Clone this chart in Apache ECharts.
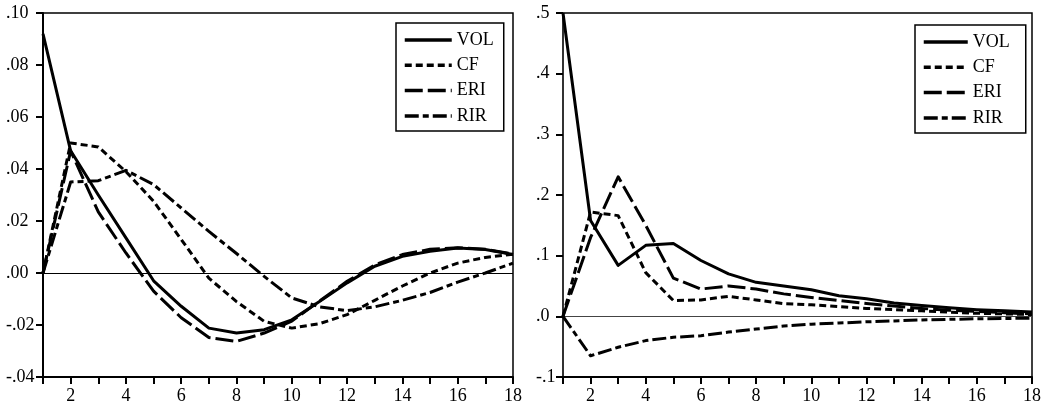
<!DOCTYPE html>
<html>
<head>
<meta charset="utf-8">
<script src="https://cdn.jsdelivr.net/npm/echarts@6/dist/echarts.min.js"></script>
<style>html,body{margin:0;padding:0;background:#fff}#c{width:1049px;height:410px}</style>
</head>
<body>
<div id="c"></div>
<script>
// horizon steps
const steps = [1,2,3,4,5,6,7,8,9,10,11,12,13,14,15,16,17,18];
const seriesNames = ['VOL','CF','ERI','RIR'];

// left panel responses
const leftVOL = [0.092,0.047,0.030,0.0135,-0.003,-0.0128,-0.0212,-0.0231,-0.0218,-0.018,-0.011,-0.0038,0.0026,0.0064,0.0084,0.0096,0.009,0.0071];
const leftCF  = [0.000,0.050,0.0485,0.039,0.0276,0.0129,-0.002,-0.011,-0.0186,-0.0212,-0.0195,-0.016,-0.0105,-0.005,0.000,0.0038,0.006,0.0072];
const leftERI = [0.000,0.047,0.0235,0.0077,-0.007,-0.0172,-0.0248,-0.0263,-0.0231,-0.0185,-0.0108,-0.0032,0.0031,0.0071,0.0091,0.0097,0.0091,0.0073];
const leftRIR = [0.000,0.035,0.0355,0.0395,0.034,0.025,0.016,0.0075,-0.0013,-0.0096,-0.013,-0.0145,-0.013,-0.0105,-0.0075,-0.0035,0.000,0.0038];

// right panel responses
const rightVOL = [0.500,0.158,0.084,0.117,0.120,0.092,0.070,0.056,0.050,0.0437,0.034,0.029,0.022,0.018,0.014,0.011,0.009,0.007];
const rightCF  = [0.000,0.172,0.166,0.072,0.026,0.027,0.033,0.027,0.021,0.019,0.016,0.013,0.011,0.009,0.007,0.005,0.004,0.003];
const rightERI = [0.000,0.130,0.230,0.150,0.063,0.045,0.050,0.045,0.037,0.031,0.026,0.021,0.017,0.013,0.010,0.008,0.006,0.004];
const rightRIR = [0.000,-0.065,-0.051,-0.040,-0.0345,-0.032,-0.026,-0.021,-0.016,-0.013,-0.011,-0.009,-0.0075,-0.006,-0.005,-0.004,-0.0035,-0.003];

// axis ranges / ticks
const leftY = {min:-0.04, max:0.10, interval:0.02};
const rightY = {min:-0.1, max:0.5, interval:0.1};
const xRange = {min:1, max:18, interval:1};

const FONT = 'Liberation Serif';
const dashes = {
  VOL: 'solid',
  CF: [7,4],
  ERI: [18,5],
  RIR: [14,4,6,4]
};

function fmtY(dec){
  return function(v){
    let s = Math.abs(v) < 1e-9 ? (0).toFixed(dec) : v.toFixed(dec);
    s = s.replace(/^(-?)0\./, '$1.');
    return s;
  };
}

function pairs(arr){ return steps.map((k,i)=>[k, arr[i]]); }

function makeSeries(gridIdx, data){
  return seriesNames.map((n, i) => {
    const s = {
      name: n,
      type: 'line',
      xAxisIndex: gridIdx,
      yAxisIndex: gridIdx,
      data: pairs(data[i]),
      symbol: 'none',
      showSymbol: false,
      smooth: false,
      lineStyle: {color:'#000', width: 3, type: dashes[n], cap:'butt', join:'round'},
      itemStyle: {color:'#000'},
      silent: true,
      z: 3
    };
    if (i === 0) {
      s.markLine = {
        silent: true,
        symbol: ['none','none'],
        label: {show:false},
        lineStyle: {color: gridIdx===0 ? '#000' : '#444', width: 1, type:'solid'},
        data: [{yAxis: 0}],
        z: 2
      };
    }
    return s;
  });
}

function xAxis(gridIdx){
  return {
    type:'value', gridIndex: gridIdx,
    min: xRange.min, max: xRange.max, interval: xRange.interval,
    axisLine:{show:true, onZero:false, lineStyle:{color:'#000', width:2}},
    axisTick:{show:true, inside:false, length:7, lineStyle:{color:'#000', width:2}},
    axisLabel:{show:true, margin:10, color:'#000', fontFamily:FONT, fontSize:18,
      formatter: v => (v % 2 === 0 ? String(v) : '')},
    splitLine:{show:false}
  };
}
function yAxis(gridIdx, r, dec, margin, color){
  return {
    type:'value', gridIndex: gridIdx,
    min:r.min, max:r.max, interval:r.interval,
    axisLine:{show:true, onZero:false, lineStyle:{color:color, width:2}},
    axisTick:{show:true, inside:false, length:7, lineStyle:{color:'#000', width:2}},
    axisLabel:{show:true, margin:margin, align:'left', color:'#000', fontFamily:FONT, fontSize:18,
      formatter: fmtY(dec)},
    splitLine:{show:false}
  };
}

function legend(left, top, itemWidth, padRight){
  return {
    data: seriesNames,
    orient:'vertical',
    left:left, top:top,
    itemWidth:itemWidth, itemHeight:14,
    itemGap:7.3,
    padding:[8,padRight,6,7],
    borderColor:'#000', borderWidth:1.5,
    backgroundColor:'#fff',
    selectedMode:false,
    itemStyle:{opacity:0},
    lineStyle:{width:3.5},
    textStyle:{fontFamily:FONT, fontSize:18, color:'#000'},
    inactiveColor:'#000'
  };
}

const chart = echarts.init(document.getElementById('c'), null, {renderer:'canvas'});
chart.setOption({
  animation:false,
  backgroundColor:'#fff',
  grid:[
    {left:43, top:13, width:470, height:364, show:true, borderColor:'#000', borderWidth:1.5, backgroundColor:'transparent'},
    {left:563, top:13, width:469, height:364, show:true, borderColor:'#000', borderWidth:1.5, backgroundColor:'transparent'}
  ],
  xAxis:[xAxis(0), xAxis(1)],
  yAxis:[yAxis(0, leftY, 2, 37, '#000'), yAxis(1, rightY, 1, 27, '#333')],
  legend:[legend(396, 23, 47, 10), legend(915, 25, 44, 16)],
  series: makeSeries(0, [leftVOL, leftCF, leftERI, leftRIR])
    .concat(makeSeries(1, [rightVOL, rightCF, rightERI, rightRIR]))
});
</script>
</body>
</html>
